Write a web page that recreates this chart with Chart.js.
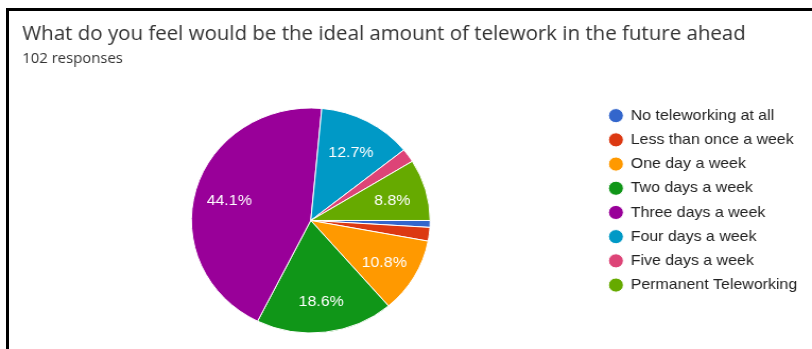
<!DOCTYPE html>
<html>
<head>
<meta charset="utf-8">
<title>Ideal amount of telework</title>
<script src="https://cdn.jsdelivr.net/npm/chart.js@4.4.1/dist/chart.umd.min.js"></script>
<style>
  html, body { margin: 0; padding: 0; background: #fff; }
  body { width: 812px; height: 349px; position: relative; overflow: hidden; }
  #frame {
    position: absolute; left: 6px; top: 8px; right: 0; bottom: 0;
    border-left: 3px solid #000; border-top: 3px solid #000;
  }
  #telework { position: absolute; left: 0; top: 0; }
</style>
</head>
<body>
<div id="frame"></div>
<canvas id="telework" width="765" height="349" style="width:812px;height:349px"></canvas>
<script>
var questionTitle = "What do you feel would be the ideal amount of telework in the future ahead";
var responseCount = "102 responses";
var categories = [
  "No teleworking at all",
  "Less than once a week",
  "One day a week",
  "Two days a week",
  "Three days a week",
  "Four days a week",
  "Five days a week",
  "Permanent Teleworking"
];
var responses = [1, 2, 11, 19, 45, 13, 2, 9];
var sliceColors = ["#3366cc", "#dc3912", "#ff9900", "#109618", "#990099", "#0099c6", "#dd4477", "#66aa00"];

// white percentage text inside the bigger slices
var sliceLabels = {
  id: "sliceLabels",
  afterDatasetsDraw: function(chart) {
    var ctx = chart.ctx;
    var data = chart.data.datasets[0].data;
    var total = data.reduce(function(a, b) { return a + b; }, 0);
    ctx.save();
    ctx.font = "15px 'Liberation Sans', Arial, sans-serif";
    ctx.fillStyle = "#fff";
    ctx.textAlign = "center";
    ctx.textBaseline = "middle";
    chart.getDatasetMeta(0).data.forEach(function(arc, i) {
      var pct = data[i] / total * 100;
      if (pct < 5) return;
      var p = arc.getProps(["x", "y", "startAngle", "endAngle", "outerRadius"], true);
      var mid = (p.startAngle + p.endAngle) / 2;
      var r = p.outerRadius * 0.71;
      ctx.fillText(pct.toFixed(1) + "%", p.x + Math.cos(mid) * r, p.y + Math.sin(mid) * r + 2.5);
    });
    ctx.restore();
  }
};

new Chart("telework", {
  type: "pie",
  data: {
    labels: categories,
    datasets: [{
      data: responses,
      backgroundColor: sliceColors,
      borderColor: "#fff",
      borderWidth: 1,
      radius: 112.5
    }]
  },
  options: {
    responsive: false,
    animation: false,
    rotation: 90,
    layout: { padding: { left: 21, right: 4, top: 0, bottom: 7 } },
    plugins: {
      title: {
        display: true,
        text: questionTitle,
        align: "start",
        color: "#333",
        font: { family: "'Open Sans', sans-serif", size: 19.3, weight: "normal" },
        padding: { top: 22.5, bottom: 0 }
      },
      subtitle: {
        display: true,
        text: responseCount,
        align: "start",
        color: "#333",
        font: { family: "'Open Sans', sans-serif", size: 14 },
        padding: { top: 4.9, bottom: 31.6 }
      },
      legend: {
        position: "right",
        align: "start",
        fullSize: false,
        labels: {
          usePointStyle: true,
          pointStyle: "circle",
          boxWidth: 13,
          boxHeight: 10,
          padding: 9.2,
          color: "#222",
          font: { family: "'Liberation Sans', Arial, sans-serif", size: 15 }
        }
      },
      tooltip: { enabled: false }
    }
  },
  plugins: [sliceLabels]
});
</script>
</body>
</html>
